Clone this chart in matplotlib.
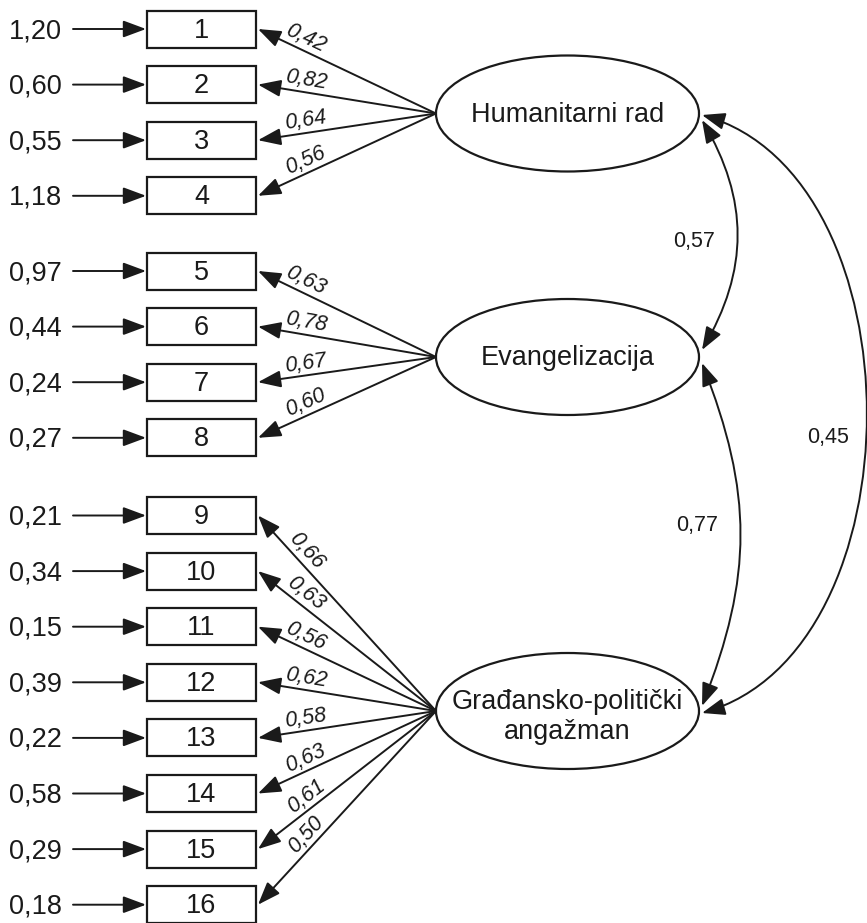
import numpy as np
import matplotlib
matplotlib.use('Agg')
import matplotlib.pyplot as plt
from matplotlib.patches import Rectangle, Ellipse, FancyArrowPatch
from matplotlib.path import Path

plt.rcParams['font.family'] = ['Liberation Sans', 'DejaVu Sans']

# model values
factors = ['Humanitarni rad', 'Evangelizacija', 'Građansko-politički\nangažman']
items_per_factor = [4, 4, 8]
item_labels = [str(i) for i in range(1, 17)]
residuals = [1.20, 0.60, 0.55, 1.18,
             0.97, 0.44, 0.24, 0.27,
             0.21, 0.34, 0.15, 0.39, 0.22, 0.58, 0.29, 0.18]
loadings = [0.42, 0.82, 0.64, 0.56,
            0.63, 0.78, 0.67, 0.60,
            0.66, 0.63, 0.56, 0.62, 0.58, 0.63, 0.61, 0.50]
corr_pairs = [(0, 1), (1, 2), (0, 2)]
corr_values = [0.57, 0.77, 0.45]

# layout (pixel units)
INK = '#1a1a1a'
W, H = 867, 923
BOX_X0, BOX_W, BOX_H = 147, 109, 37
STEP = 55.6
GROUP_TOP = [29, 271, 515.5]
LAT_X, LAT_Y = 567.5, [113.5, 357, 711]
LAT_W, LAT_H = 263, 116
HEAD = dict(arrowstyle='-|>,head_length=1.4,head_width=0.52',
            mutation_scale=10, color=INK, lw=1.4, shrinkA=0, shrinkB=0)
# arc end offsets / bulge for each correlation: (y at A, y at B, k, h, label xy)
ARCS = [(120, 350, 47, 80, (694, 241)),
        (363, 706, 51, 130, (697, 525)),
        (115, 713, 219, 62, (828, 437))]


def fmt(v):
    return ('%.2f' % v).replace('.', ',')


fig = plt.figure(figsize=(W / 100, H / 100), dpi=100)
ax = fig.add_axes([0, 0, 1, 1])
ax.set_xlim(0, W)
ax.set_ylim(H, 0)
ax.axis('off')

idx = 0
for g, n in enumerate(items_per_factor):
    lx, ly = LAT_X - LAT_W / 2, LAT_Y[g]
    for i in range(n):
        cy = GROUP_TOP[g] + i * STEP
        ax.add_patch(Rectangle((BOX_X0, cy - BOX_H / 2), BOX_W, BOX_H,
                               fc='white', ec=INK, lw=1.6, zorder=2))
        ax.text(BOX_X0 + BOX_W / 2, cy + 1.5, item_labels[idx],
                fontsize=19.5, ha='center', va='center', color=INK)
        ax.text(62, cy + 2, fmt(residuals[idx]), fontsize=19.5,
                ha='right', va='center', color=INK)
        ax.add_patch(FancyArrowPatch((73, cy), (146, cy), **HEAD))

        # loading arrow from latent to item
        bx = BOX_X0 + BOX_W + 2
        ax.add_patch(FancyArrowPatch((lx, ly), (bx, cy), **HEAD))
        dx, dy = lx - bx, ly - cy
        ln = np.hypot(dx, dy)
        ux, uy = dx / ln, dy / ln
        nx, ny = uy, -ux
        p = 12
        qx = 306 - p * nx
        qy = cy + (qx - bx) * dy / dx
        ang = np.degrees(np.arctan2(-dy, dx))
        ax.text(qx + p * nx, qy + p * ny, fmt(loadings[idx]), fontsize=15.5,
                style='italic', rotation=ang, rotation_mode='anchor',
                ha='center', va='center', color=INK)
        idx += 1

    ax.add_patch(Ellipse((LAT_X, ly), LAT_W, LAT_H, fc='white', ec=INK,
                         lw=1.6, zorder=2))
    ax.text(LAT_X, ly + (6 if '\n' in factors[g] else 1), factors[g],
            fontsize=19.5, ha='center', va='center', color=INK,
            linespacing=1.2, zorder=3)

# correlations between latents
ex = LAT_X + LAT_W / 2 + 3
for (a, b), r, (ya, yb, k, h, (tx, ty)) in zip(corr_pairs, corr_values, ARCS):
    verts = [(ex, ya), (ex + k, ya + h), (ex + k, yb - h), (ex, yb)]
    path = Path(verts, [Path.MOVETO, Path.CURVE4, Path.CURVE4, Path.CURVE4])
    style = dict(HEAD)
    style['arrowstyle'] = style['arrowstyle'].replace('-|>', '<|-|>')
    ax.add_patch(FancyArrowPatch(path=path, **style))
    ax.text(tx, ty, fmt(r), fontsize=15.5, ha='center', va='center', color=INK)

fig.savefig('out.png', dpi=100)
